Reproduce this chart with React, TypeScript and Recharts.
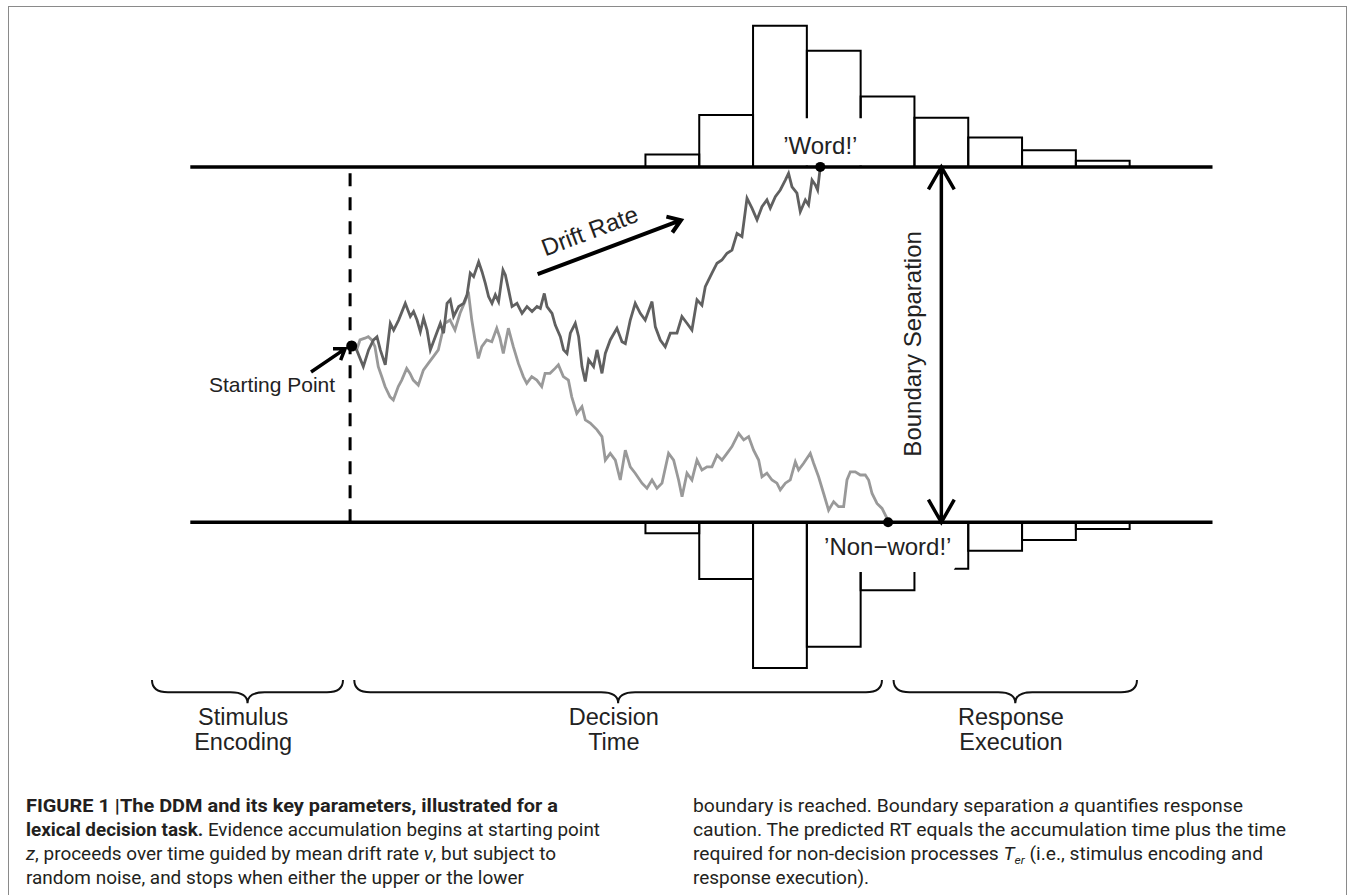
import React from "react";
import { ComposedChart, Line, XAxis, YAxis, ReferenceLine, ReferenceArea, ReferenceDot } from "recharts";

// time in ms (0 = left end of the boundaries), evidence 0 = lower, 100 = upper boundary
const binEdges = [423, 473, 523, 573, 623, 673, 723, 773, 823, 873];
const wordRt = [3.5, 14.6, 39.7, 32.7, 19.8, 13.8, 8.3, 4.7, 1.7];
const nonwordRt = [3.1, 16.0, 41.0, 35.0, 19.1, 13.1, 8.0, 5.0, 1.9];

const upperBound = 100;
const lowerBound = 0;
const startZ = 49.6;
const encodingEnd = 148.5;
const boundaryEnd = 950;

const wordWalk: [number, number][] = [
  [150, 49.6], [154.6, 48.5], [160.8, 43.8], [165.7, 48.5], [170.3, 51.3], [173.5, 52.2], [176.6, 48.5], [181.2, 44.3],
  [185.9, 56.0], [189.0, 54.1], [193.6, 56.9], [199.8, 61.6], [204.5, 57.9], [207.5, 59.3], [210.7, 56.9], [213.8, 53.6],
  [216.8, 57.4], [220.0, 54.1], [223.1, 48.5], [227.7, 52.2], [232.4, 56.0], [235.4, 53.2], [238.6, 61.6], [241.6, 62.6],
  [244.7, 57.9], [249.4, 60.7], [254.0, 61.6], [257.2, 64.0], [260.2, 70.1], [263.3, 69.1], [268.0, 73.3], [271.1, 70.5],
  [274.2, 67.2], [277.2, 63.5], [280.4, 61.6], [283.5, 64.0], [286.5, 62.1], [290.6, 71.0], [292.8, 69.6], [295.8, 65.4],
  [299.0, 60.7], [303.6, 61.6], [308.3, 58.8], [312.9, 60.7], [317.6, 59.3], [322.2, 60.7], [325.3, 60.2], [329.0, 64.4],
  [331.5, 60.7], [336.2, 58.8], [339.2, 55.5], [343.9, 52.2], [346.9, 48.5], [350.1, 47.5], [353.2, 53.2], [357.8, 56.0],
  [360.9, 52.2], [364.0, 43.8], [367.1, 39.6], [370.2, 45.7], [374.8, 43.8], [378.0, 48.5], [382.6, 41.9], [385.7, 47.5],
  [390.3, 51.3], [396.5, 54.6], [401.2, 50.8], [404.3, 50.3], [408.9, 56.9], [413.5, 61.6], [418.2, 58.8], [422.8, 56.9],
  [429.1, 62.1], [432.2, 55.0], [436.8, 51.3], [441.4, 49.4], [446.1, 53.2], [452.3, 53.2], [456.9, 57.9], [461.6, 56.0],
  [466.2, 54.1], [470.9, 62.6], [475.5, 61.1], [478.6, 66.3], [484.8, 70.1], [489.5, 72.9], [494.1, 73.8], [498.8, 75.7],
  [503.4, 76.6], [508.1, 81.3], [512.7, 80.4], [517.4, 91.2], [522.0, 88.4], [526.7, 85.1], [531.3, 88.8], [535.9, 90.7],
  [539.0, 88.4], [543.7, 91.6], [548.3, 93.5], [553.0, 96.3], [556.0, 98.2], [559.2, 94.4], [563.8, 92.6], [566.9, 87.4],
  [571.6, 90.7], [574.6, 89.3], [577.8, 96.3], [580.9, 94.9], [583.0, 93.5], [585.5, 100],
];

const nonwordWalk: [number, number][] = [
  [150, 49.6], [154.6, 48.5], [157.7, 51.3], [162.3, 51.8], [165.4, 52.2], [168.6, 51.3], [171.6, 49.4], [174.7, 43.8],
  [177.9, 41.0], [181.0, 38.2], [185.6, 35.3], [188.7, 34.4], [193.3, 38.2], [196.5, 40.0], [201.1, 43.3], [204.2, 41.9],
  [207.2, 40.0], [211.9, 38.6], [216.6, 42.8], [221.2, 44.7], [225.9, 46.6], [230.5, 48.5], [233.7, 52.7], [236.7, 56.0],
  [241.4, 56.9], [246.0, 54.1], [250.7, 58.8], [255.3, 62.1], [258.4, 64.9], [261.6, 56.9], [264.6, 51.3], [267.7, 46.1],
  [270.9, 49.4], [275.5, 51.3], [280.2, 50.8], [284.8, 54.6], [287.8, 51.8], [290.9, 47.5], [295.6, 54.6], [300.2, 49.4],
  [304.9, 44.7], [309.5, 41.0], [312.7, 39.1], [317.3, 41.0], [322.0, 40.0], [326.6, 38.2], [329.7, 41.9], [334.3, 41.9],
  [339.0, 43.3], [342.1, 44.3], [346.7, 41.0], [351.4, 40.0], [354.5, 35.3], [359.2, 30.6], [364.0, 32.5], [367.1, 28.8],
  [371.7, 27.9], [378.0, 26.0], [382.6, 24.1], [385.7, 17.5], [390.3, 19.4], [395.0, 17.5], [399.6, 11.9], [404.3, 20.3],
  [408.9, 15.6], [413.5, 13.8], [419.8, 11.0], [424.4, 9.6], [429.1, 11.9], [433.7, 9.6], [438.4, 11.0], [444.5, 19.4],
  [449.2, 17.5], [453.8, 11.9], [457.0, 7.2], [461.6, 13.8], [466.2, 11.9], [470.9, 17.5], [475.5, 14.7], [480.2, 15.6],
  [484.8, 15.6], [489.5, 18.9], [494.1, 17.5], [498.8, 19.4], [503.4, 21.3], [509.6, 25.0], [514.3, 23.2], [518.9, 24.1],
  [523.5, 20.3], [528.2, 17.5], [531.3, 12.8], [535.9, 13.8], [540.6, 11.9], [545.2, 11.0], [548.3, 9.1], [553.0, 11.0],
  [557.6, 11.9], [562.3, 17.0], [565.3, 14.7], [570.0, 16.6], [576.2, 19.4], [579.3, 16.6], [583.9, 12.8], [588.6, 8.1],
  [593.2, 3.4], [597.9, 5.8], [602.5, 4.4], [607.2, 4.4], [610.3, 11.9], [613.4, 14.2], [618.0, 14.2], [622.7, 13.3],
  [627.3, 13.3], [630.4, 11.9], [633.6, 8.1], [638.2, 5.3], [642.9, 3.9], [647.5, 1.1], [648.5, 0],
];

const phaseNames = [["Stimulus", "Encoding"], ["Decision", "Time"], ["Response", "Execution"]];
const phaseStart = [-35.6, 152.4, 653.6];
const phaseEnd = [141.9, 642.8, 879.8];

const toPoints = (w: [number, number][]) => w.map(([t, e]) => ({ t, e }));

const FONT = "'Liberation Sans', Arial, Helvetica, sans-serif";

function textShape(lines: string[], size: number, rotate = 0, gap = 25) {
  return (p: any) => {
    const { cx, cy } = p;
    return (
      <text
        x={cx}
        y={cy}
        textAnchor="middle"
        fontSize={size}
        fontFamily={FONT}
        fill="#222"
        transform={rotate ? `rotate(${rotate} ${cx} ${cy})` : undefined}
      >
        {lines.map((l, i) => (
          <tspan key={i} x={cx} dy={i === 0 ? 0 : gap}>
            {l}
          </tspan>
        ))}
      </text>
    );
  };
}

function arrowShape(both: boolean, head: number, spread: number, width: number) {
  return (p: any) => {
    const { x1, y1, x2, y2 } = p;
    const a = Math.atan2(y2 - y1, x2 - x1);
    const tip = (x: number, y: number, ang: number) =>
      `M${x - head * Math.cos(ang - spread)},${y - head * Math.sin(ang - spread)} L${x},${y} L${
        x - head * Math.cos(ang + spread)
      },${y - head * Math.sin(ang + spread)}`;
    let d = `M${x1},${y1} L${x2},${y2} ${tip(x2, y2, a)}`;
    if (both) d += ` ${tip(x1, y1, a + Math.PI)}`;
    return <path d={d} fill="none" stroke="#000" strokeWidth={width} />;
  };
}

const braceShape = (p: any) => {
  const { x, y, width, height } = p;
  const x1 = x + width;
  const m = x + width / 2;
  const yF = y + height * 0.53;
  const yT = y + height;
  const r = 16;
  const q = 17;
  const d = `M${x},${y} Q${x},${yF} ${x + r},${yF} L${m - q},${yF} Q${m},${yF} ${m},${yT} Q${m},${yF} ${m + q},${yF} L${
    x1 - r
  },${yF} Q${x1},${yF} ${x1},${y}`;
  return <path d={d} fill="none" stroke="#111" strokeWidth={2} />;
};

function Caption() {
  const base = { fontFamily: "Roboto, 'Liberation Sans', sans-serif", fontSize: 17.5, fill: "#231f20" };
  return (
    <svg width={1356} height={115} style={{ position: "absolute", left: 0, top: 780 }}>
      <g {...base}>
        <text x={26} y={32} textLength={532} lengthAdjust="spacingAndGlyphs" fontWeight="bold">
          FIGURE 1 |The DDM and its key parameters, illustrated for a
        </text>
        <text x={26} y={56} textLength={574} lengthAdjust="spacingAndGlyphs">
          <tspan fontWeight="bold">lexical decision task.</tspan> Evidence accumulation begins at starting point
        </text>
        <text x={26} y={80} textLength={530} lengthAdjust="spacingAndGlyphs">
          <tspan fontStyle="italic">z</tspan>, proceeds over time guided by mean drift rate <tspan fontStyle="italic">v</tspan>, but subject to
        </text>
        <text x={26} y={104} textLength={498} lengthAdjust="spacingAndGlyphs">
          random noise, and stops when either the upper or the lower
        </text>
        <text x={693} y={32} textLength={550} lengthAdjust="spacingAndGlyphs">
          boundary is reached. Boundary separation <tspan fontStyle="italic">a</tspan> quantifies response
        </text>
        <text x={693} y={56} textLength={593} lengthAdjust="spacingAndGlyphs">
          caution. The predicted RT equals the accumulation time plus the time
        </text>
        <text x={693} y={80} textLength={570} lengthAdjust="spacingAndGlyphs">
          required for non-decision processes <tspan fontStyle="italic">T</tspan>
          <tspan fontStyle="italic" fontSize={11} dy={4}>er</tspan>
          <tspan dy={-4}> (i.e., stimulus encoding and</tspan>
        </text>
        <text x={693} y={104} textLength={176} lengthAdjust="spacingAndGlyphs">
          response execution).
        </text>
      </g>
    </svg>
  );
}

export default function App() {
  const wordData = toPoints(wordWalk);
  const nonwordData = toPoints(nonwordWalk);

  return (
    <div style={{ position: "absolute", left: 0, top: 0, width: 1356, height: 895, background: "#fff" }}>
      <div
        style={{
          position: "absolute",
          left: 8,
          top: 6,
          width: 1339,
          height: 900,
          border: "1px solid #8a8a8a",
          boxSizing: "border-box",
        }}
      />
      <div style={{ position: "absolute", left: 0, top: 0 }}>
        <ComposedChart width={1356} height={780} margin={{ top: 7, right: 9, bottom: 9, left: 2 }}>
          <XAxis type="number" dataKey="t" domain={[-175, 1075]} hide allowDataOverflow />
          <YAxis type="number" dataKey="e" domain={[-70, 145]} hide allowDataOverflow />

          {wordRt.map((h, i) => (
            <ReferenceArea
              key={`w${i}`}
              x1={binEdges[i]}
              x2={binEdges[i + 1]}
              y1={upperBound}
              y2={upperBound + h}
              fill="none"
              fillOpacity={0}
              stroke="#000"
              strokeWidth={2}
              ifOverflow="visible"
            />
          ))}
          {nonwordRt.map((h, i) => (
            <ReferenceArea
              key={`n${i}`}
              x1={binEdges[i]}
              x2={binEdges[i + 1]}
              y1={lowerBound - h}
              y2={lowerBound}
              fill="none"
              fillOpacity={0}
              stroke="#000"
              strokeWidth={2}
              ifOverflow="visible"
            />
          ))}

          {/* white patches behind the response labels */}
          <ReferenceArea x1={537} x2={664.5} y1={100.4} y2={113.7} fill="#fff" fillOpacity={1} stroke="none" radius={6} />
          <ReferenceArea x1={578} x2={711} y1={-14} y2={-0.4} fill="#fff" fillOpacity={1} stroke="none" radius={6} />

          {phaseStart.map((s, i) => (
            <ReferenceArea key={`b${i}`} x1={s} x2={phaseEnd[i]} y1={-50.9} y2={-44.4} shape={braceShape} ifOverflow="visible" />
          ))}

          <ReferenceDot x={585.5} y={upperBound} r={5} fill="#000" stroke="none" />
          <ReferenceDot x={648.5} y={lowerBound} r={5} fill="#000" stroke="none" />

          <ReferenceLine
            segment={[{ x: 0, y: upperBound }, { x: boundaryEnd, y: upperBound }]}
            stroke="#000"
            strokeWidth={3.5}
          />
          <ReferenceLine
            segment={[{ x: 0, y: lowerBound }, { x: boundaryEnd, y: lowerBound }]}
            stroke="#000"
            strokeWidth={3.5}
          />
          <ReferenceLine
            segment={[{ x: encodingEnd, y: lowerBound }, { x: encodingEnd, y: upperBound }]}
            stroke="#000"
            strokeWidth={3}
            strokeDasharray="13 11"
          />

          <Line
            data={nonwordData}
            dataKey="e"
            type="linear"
            dot={false}
            stroke="#999999"
            strokeWidth={2.8}
            isAnimationActive={false}
          />
          <Line
            data={wordData}
            dataKey="e"
            type="linear"
            dot={false}
            stroke="#606060"
            strokeWidth={2.8}
            isAnimationActive={false}
          />

          <ReferenceLine
            segment={[{ x: 698, y: upperBound }, { x: 698, y: lowerBound }]}
            shape={arrowShape(true, 26, 0.52, 3.5)}
          />
          <ReferenceLine segment={[{ x: 322.8, y: 69.8 }, { x: 456, y: 85 }]} shape={arrowShape(false, 15, 0.6, 4)} />
          <ReferenceLine segment={[{ x: 112.2, y: 42.3 }, { x: 143.8, y: 48.8 }]} shape={arrowShape(false, 12, 0.6, 3.5)} />

          <ReferenceDot x={150} y={startZ} r={5.5} fill="#000" stroke="none" />

          <ReferenceDot x={585.5} y={103.6} shape={textShape(["\u2019Word!\u2019"], 24)} />
          <ReferenceDot x={648.2} y={-9.2} shape={textShape(["\u2019Non\u2212word!\u2019"], 24)} />
          <ReferenceDot x={76} y={36.7} shape={textShape(["Starting Point"], 21)} />
          <ReferenceDot x={373.9} y={79.8} shape={textShape(["Drift Rate"], 24, -20.6)} />
          <ReferenceDot x={679.1} y={50.2} shape={textShape(["Boundary Separation"], 24, -90)} />

          {phaseNames.map((n, i) => (
            <ReferenceDot key={`p${i}`} x={(phaseStart[i] + phaseEnd[i]) / 2 - 4} y={-57} shape={textShape(n, 23.5)} />
          ))}
        </ComposedChart>
      </div>
      <Caption />
    </div>
  );
}
